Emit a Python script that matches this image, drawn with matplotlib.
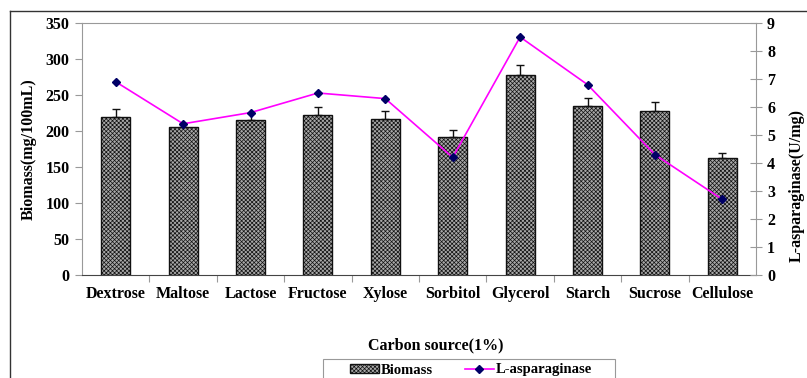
import matplotlib.pyplot as plt
import numpy as np
from matplotlib.lines import Line2D
from matplotlib.patches import Patch, Rectangle

plt.rcParams['font.family'] = ['Liberation Serif', 'DejaVu Serif']
plt.rcParams['font.weight'] = 'bold'
plt.rcParams['hatch.color'] = '#666666'
plt.rcParams['hatch.linewidth'] = 0.5

carbon_sources = ['Dextrose', 'Maltose', 'Lactose', 'Fructose', 'Xylose',
                  'Sorbitol', 'Glycerol', 'Starch', 'Sucrose', 'Cellulose']
biomass = [219, 205, 215, 222, 217, 192, 278, 235, 228, 162]
biomass_err = [12, 5, 10, 12, 11, 10, 13, 11, 12, 8]
asparaginase = [6.9, 5.4, 5.8, 6.5, 6.3, 4.2, 8.5, 6.8, 4.3, 2.7]

W, H = 807, 378
fs = 11.5
fig = plt.figure(figsize=(W / 100, H / 100), dpi=100)

# outer frame (only top and left visible in the crop)
fig.add_artist(Line2D([10 / W, 10 / W], [0, 1 - 11 / H], transform=fig.transFigure,
                      color='#333333', lw=1.0))
fig.add_artist(Line2D([10 / W, 1], [1 - 11 / H, 1 - 11 / H], transform=fig.transFigure,
                      color='#333333', lw=1.0))

ax = fig.add_axes([82 / W, 1 - 275 / H, (756 - 82) / W, (275 - 23) / H])
x = np.arange(len(carbon_sources))

ax.bar(x, biomass, width=0.43, color='#a8a8a8', edgecolor='#111111', linewidth=1.0,
       hatch='xxxxxxxx', yerr=[np.zeros(len(biomass)), biomass_err], capsize=3,
       error_kw=dict(elinewidth=1.0, ecolor='#111111', capthick=1.0), zorder=2)

ax.set_xlim(-0.5, len(carbon_sources) - 0.5)
ax.set_ylim(0, 350)
ax.set_yticks(np.arange(0, 351, 50))
ax.set_xticks(np.arange(0.5, len(carbon_sources) - 0.5, 1))
ax.set_xticklabels([])
ax.set_xticks(x, minor=True)
ax.set_xticklabels(carbon_sources, minor=True)
ax.tick_params(axis='x', which='major', direction='out', length=5, color='#999999')
ax.tick_params(axis='x', which='minor', length=0, pad=8, labelsize=fs)
ax.tick_params(axis='y', direction='out', length=5, color='#999999', labelsize=fs, pad=4)

for s in ['top', 'left', 'right']:
    ax.spines[s].set_color('#999999')
ax.spines['bottom'].set_color('#444444')

ax2 = ax.twinx()
ax2.plot(x, asparaginase, color='#ff00ff', lw=1.2, marker='D', markersize=4,
         markerfacecolor='#000066', markeredgecolor='#000066', zorder=3)
ax2.set_ylim(0, 9)
ax2.set_yticks(np.arange(0, 10, 1))
ax2.tick_params(axis='y', direction='inout', length=8, color='#999999', labelsize=fs, pad=4)
for s in ['top', 'left', 'right', 'bottom']:
    ax2.spines[s].set_visible(False)

ax.set_ylabel('Biomass(mg/100mL)', fontsize=fs, fontweight='bold', labelpad=6)
fig.text(436 / W, 1 - 345 / H, 'Carbon source(1%)', ha='center', va='center',
         fontsize=fs, fontweight='bold')
fig.text(797 / W, 1 - 185 / H, 'L-asparaginase(U/mg)', ha='center', va='center',
         rotation=90, fontsize=fs, fontweight='bold')

# legend box runs off the bottom edge, as in the source
fig.add_artist(Rectangle((323 / W, -0.02), (615 - 323) / W, 0.02 + 19 / H,
                         transform=fig.transFigure, facecolor='white',
                         edgecolor='#999999', linewidth=0.8))
handles = [
    Patch(facecolor='#a8a8a8', edgecolor='#111111', hatch='xxxxxxxx', label='Biomass'),
    Line2D([], [], color='#ff00ff', lw=1.2, marker='D', markersize=4,
           markerfacecolor='#000066', markeredgecolor='#000066', label='L-asparaginase'),
]
leg = fig.legend(handles=handles, loc='center left', bbox_to_anchor=(350 / W, 1 - 370 / H),
                 ncol=2, frameon=False, fontsize=10.5, handlelength=2.0,
                 handleheight=0.6, columnspacing=2.2, borderpad=0, handletextpad=0.1,
                 borderaxespad=0)

fig.savefig('out.png', dpi=100)
